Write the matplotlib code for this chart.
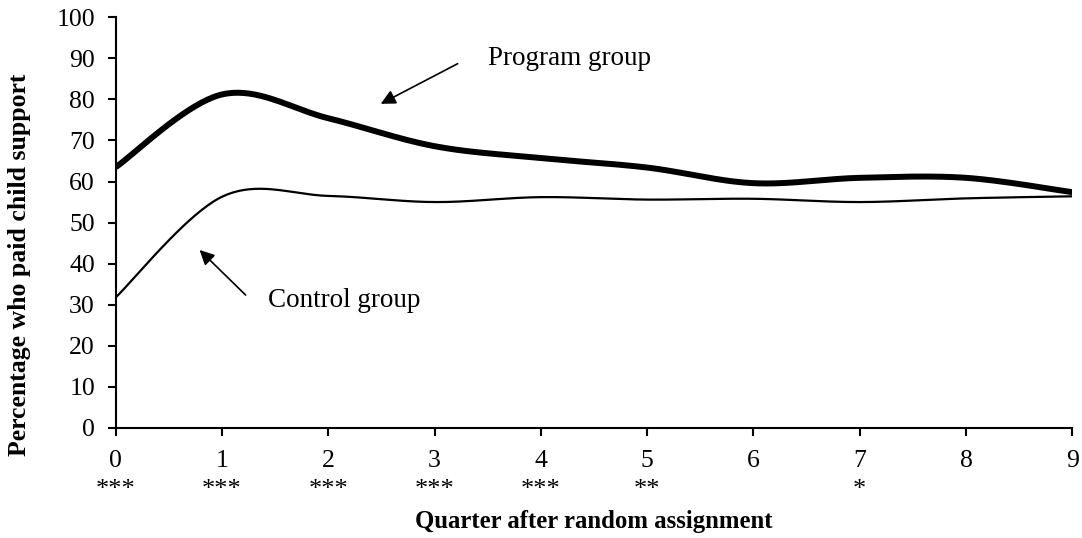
import matplotlib.pyplot as plt
import numpy as np

plt.rcParams["font.family"] = ["Liberation Serif", "DejaVu Serif"]

quarters = [0, 1, 2, 3, 4, 5, 6, 7, 8, 9]
program = [63.5, 81.2, 75.4, 68.6, 65.7, 63.4, 59.6, 60.9, 60.9, 57.4]
control = [31.8, 56.3, 56.5, 55.0, 56.2, 55.6, 55.8, 55.0, 55.9, 56.4]
stars = ["***", "***", "***", "***", "***", "**", "", "*", "", ""]


def excel_smooth(x, y, n=40):
    # bezier segments with catmull-rom style control points (like Excel "smoothed line")
    x = np.asarray(x, float)
    y = np.asarray(y, float)
    px = np.concatenate([[x[0]], x, [x[-1]]])
    py = np.concatenate([[y[0]], y, [y[-1]]])
    xs, ys = [], []
    t = np.linspace(0, 1, n)
    for i in range(1, len(px) - 2):
        p0 = np.array([px[i], py[i]])
        p3 = np.array([px[i + 1], py[i + 1]])
        p1 = p0 + (np.array([px[i + 1], py[i + 1]]) - np.array([px[i - 1], py[i - 1]])) / 6
        p2 = p3 - (np.array([px[i + 2], py[i + 2]]) - np.array([px[i], py[i]])) / 6
        b = ((1 - t) ** 3)[:, None] * p0 + (3 * (1 - t) ** 2 * t)[:, None] * p1 \
            + (3 * (1 - t) * t ** 2)[:, None] * p2 + (t ** 3)[:, None] * p3
        xs.append(b[:, 0])
        ys.append(b[:, 1])
    return np.concatenate(xs), np.concatenate(ys)


fig = plt.figure(figsize=(10.82, 5.38), dpi=100)
ax = fig.add_axes([0.107, 0.2045, 0.884, 0.7635])

sx, sy = excel_smooth(quarters, program)
ax.plot(sx, sy, color="black", lw=4.3, solid_capstyle="butt")
sx, sy = excel_smooth(quarters, control)
ax.plot(sx, sy, color="black", lw=1.6)

ax.set_xlim(0, 9)
ax.set_ylim(0, 100)
ax.set_xticks(quarters)
ax.set_yticks(range(0, 101, 10))
ax.tick_params(axis="both", direction="out", length=6, width=1.5, labelsize=18.5)
ax.tick_params(axis="x", pad=10)
ax.tick_params(axis="y", pad=9)
ax.spines["top"].set_visible(False)
ax.spines["right"].set_visible(False)
for s in ["left", "bottom"]:
    ax.spines[s].set_linewidth(1.5)

for q, s in zip(quarters, stars):
    if s:
        ax.text(q, -0.151, s, transform=ax.get_xaxis_transform(), ha="center",
                va="center", fontsize=19)

ax.set_xlabel("Quarter after random assignment", fontsize=17.8, fontweight="bold",
              va="center")
ax.xaxis.set_label_coords(0.5, -0.228)
ax.set_ylabel("Percentage who paid child support", fontsize=18.5, fontweight="bold",
              va="center")
ax.yaxis.set_label_coords(-0.101, 0.397)

ax.annotate("", xy=(2.47, 78.6), xytext=(3.24, 89.0),
            arrowprops=dict(arrowstyle="-|>", color="black", lw=1.2, mutation_scale=22))
ax.text(3.5, 90.0, "Program group", fontsize=19.5, va="center", ha="left")
ax.annotate("", xy=(0.77, 43.8), xytext=(1.24, 31.9),
            arrowprops=dict(arrowstyle="-|>", color="black", lw=1.2, mutation_scale=22))
ax.text(1.43, 31.1, "Control group", fontsize=19.5, va="center", ha="left")

fig.savefig("out.png", dpi=100)
